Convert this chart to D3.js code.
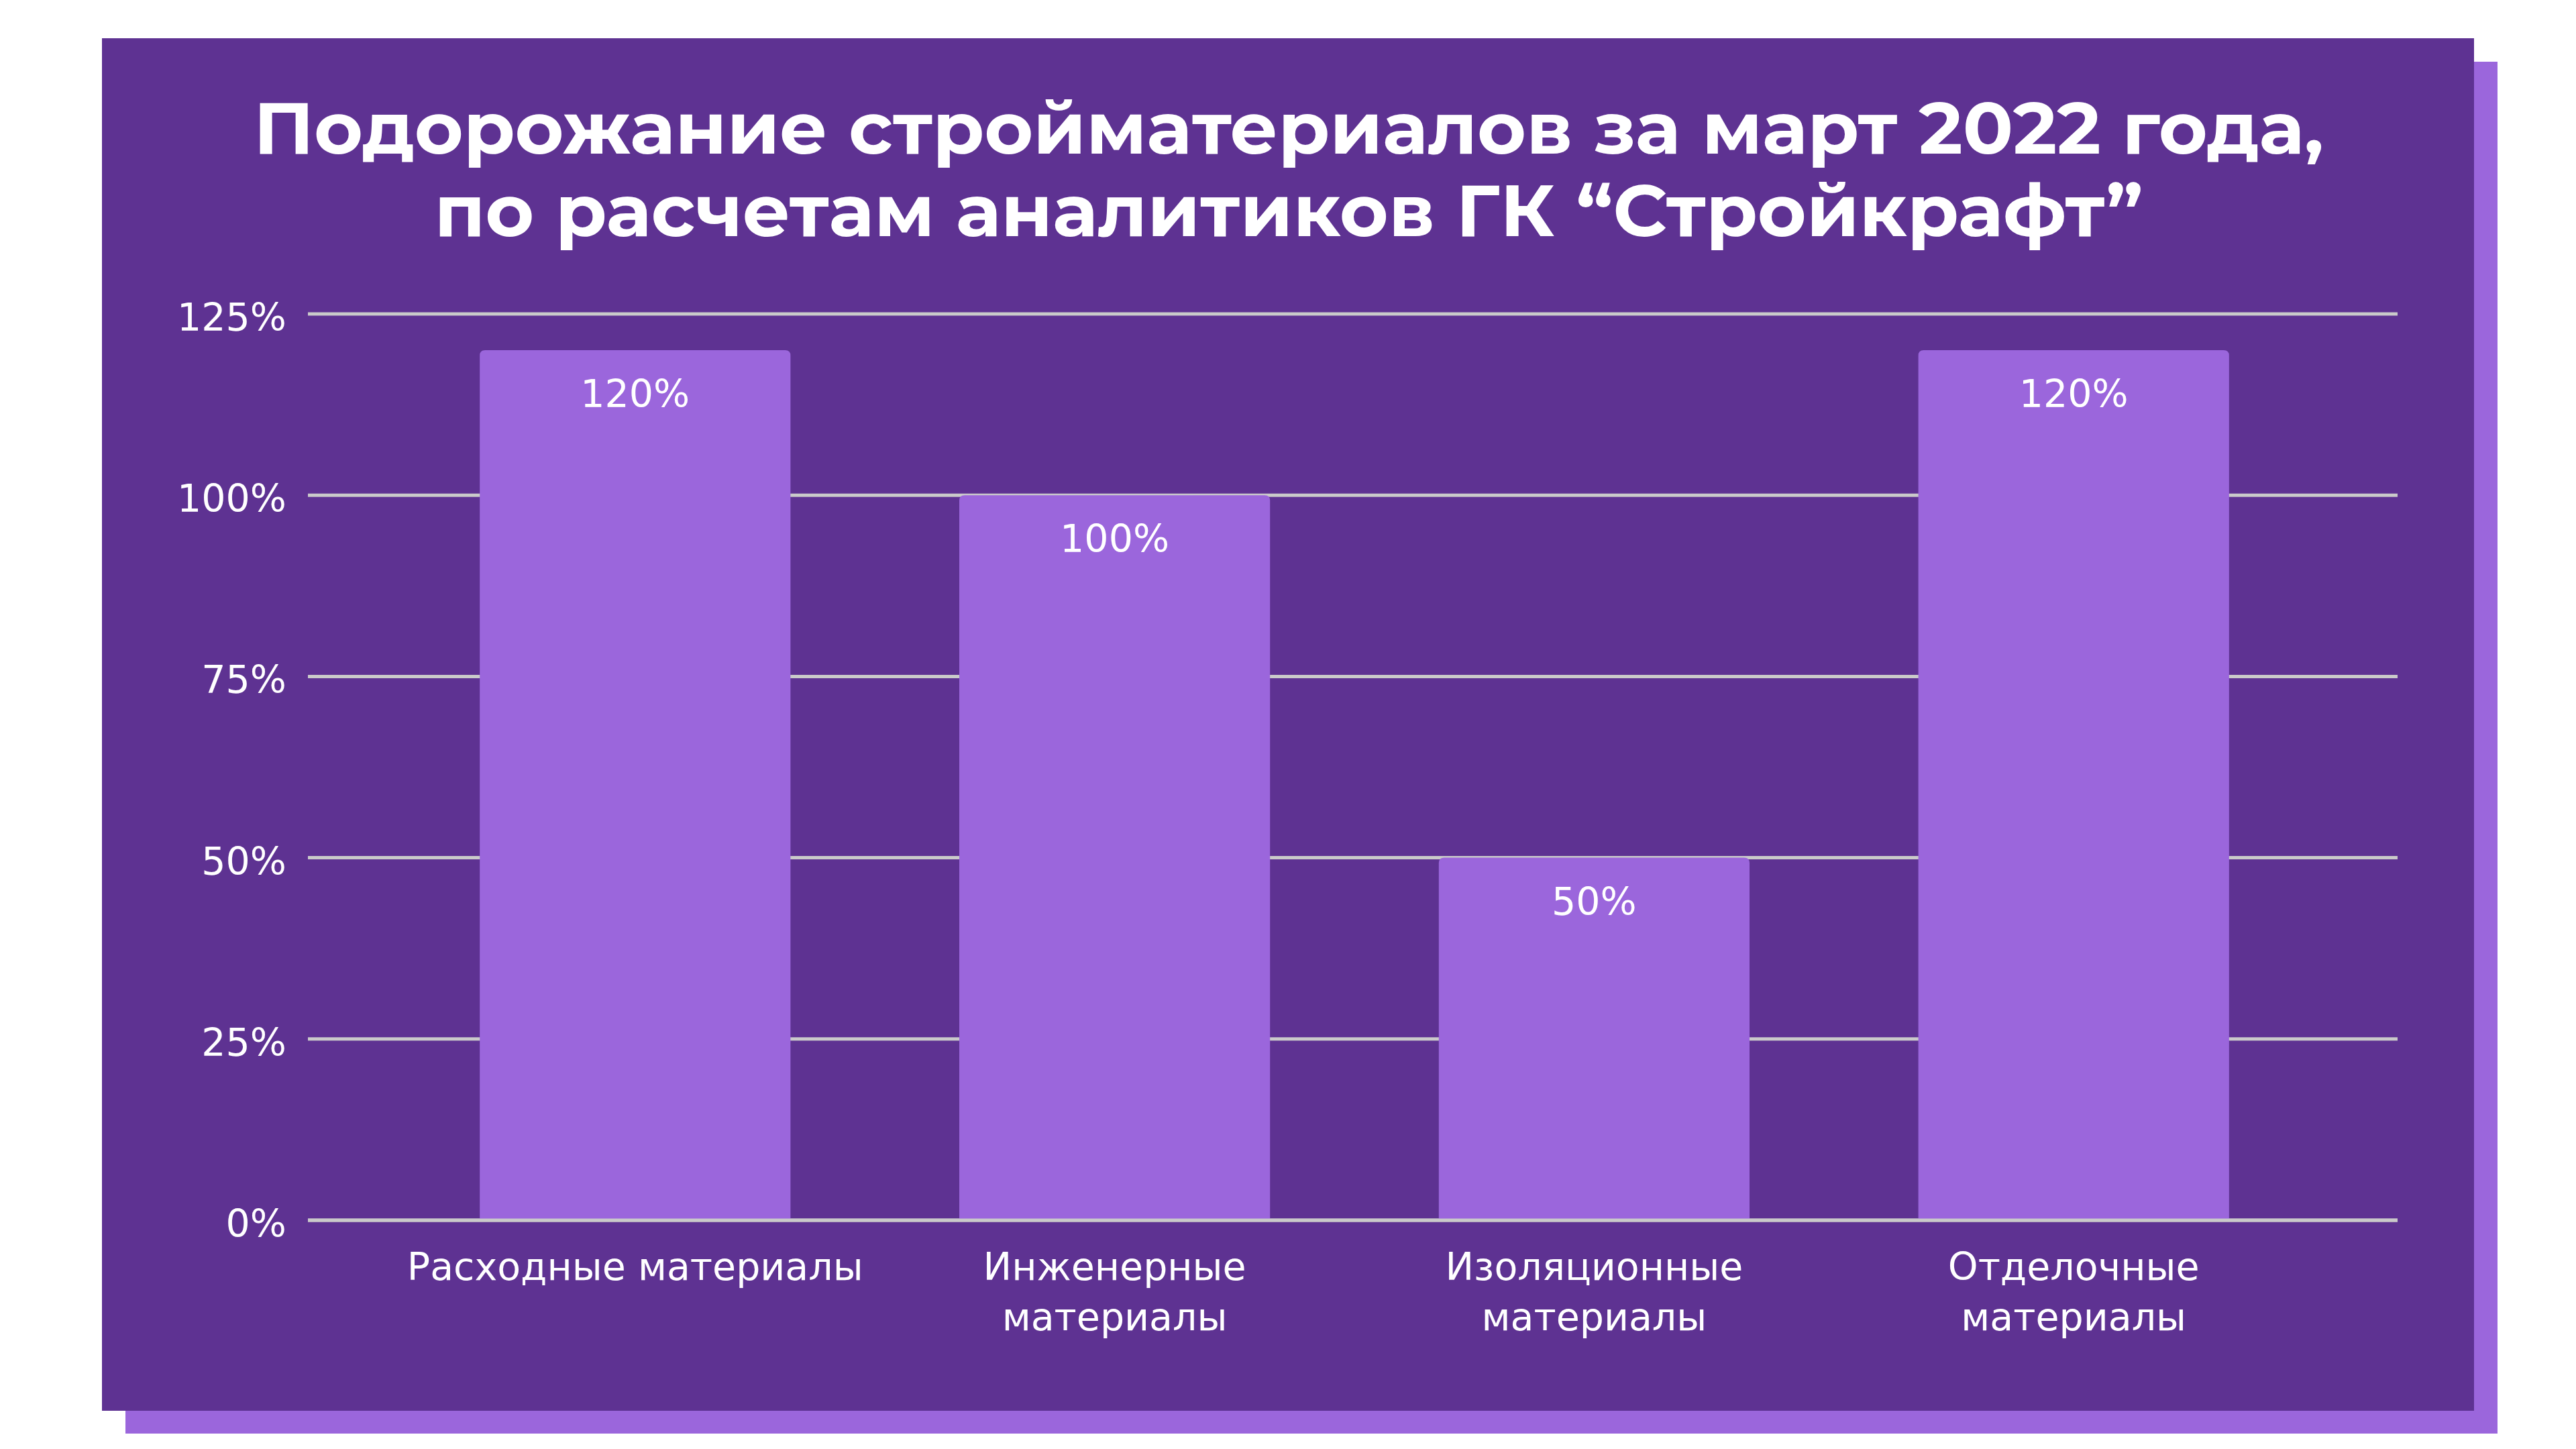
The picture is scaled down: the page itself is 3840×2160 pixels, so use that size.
<!DOCTYPE html>
<html>
<head>
<meta charset="utf-8">
<script src="https://cdn.jsdelivr.net/npm/d3@7"></script>
<style>
  body { margin: 0; background: #fff; }
  svg { display: block; }
</style>
</head>
<body>
<div class="svg"></div>
<script>
const width = 3840
const height = 2160

// Data
const categories = [
  'Расходные материалы',
  'Инженерные\nматериалы',
  'Изоляционные\nматериалы',
  'Отделочные\nматериалы'
]
const values = [120, 100, 50, 120]
const yTicks = [0, 25, 50, 75, 100, 125]
const titleLines = [
  'Подорожание стройматериалов за март 2022 года,',
  'по расчетам аналитиков ГК “Стройкрафт”'
]

const panelColor = '#5e3292'
const barColor = '#9b66dc'
const gridColor = '#cacaca'
const tickFont = '"DejaVu Sans", Verdana, sans-serif'

const svg = d3
  .select('.svg')
  .append('svg')
  .attr('width', width)
  .attr('height', height)

// background panel + offset shadow
svg
  .append('rect')
  .attr('x', 187)
  .attr('y', 92)
  .attr('width', 3723 - 187)
  .attr('height', 2137 - 92)
  .attr('fill', barColor)

svg
  .append('rect')
  .attr('x', 152)
  .attr('y', 57)
  .attr('width', 3688 - 152)
  .attr('height', 2103 - 57)
  .attr('fill', panelColor)

// Title
const titleWidths = [3086, 2547]
svg
  .append('g')
  .selectAll('text')
  .data(titleLines)
  .enter()
  .append('text')
  .attr('x', 1921)
  .attr('y', (d, i) => 229 + i * 123)
  .attr('text-anchor', 'middle')
  .attr('fill', '#fff')
  .style('font-family', 'Montserrat, Inter, "Noto Sans", sans-serif')
  .style('font-weight', 700)
  .style('font-size', '108px')
  .attr('textLength', (d, i) => titleWidths[i])
  .attr('lengthAdjust', 'spacingAndGlyphs')
  .text(d => d)

// Scales
const xScale = d3
  .scaleBand()
  .domain(categories)
  .range([465, 3573])
  .paddingInner(0.352)
  .paddingOuter(0.35)

const yScale = d3
  .scaleLinear()
  .domain([0, 125])
  .range([1819, 468])

// Gridlines
svg
  .append('g')
  .attr('class', 'grid')
  .selectAll('line')
  .data(yTicks)
  .enter()
  .append('line')
  .attr('x1', 459)
  .attr('x2', 3574)
  .attr('y1', d => yScale(d))
  .attr('y2', d => yScale(d))
  .attr('stroke', gridColor)
  .attr('stroke-width', 5)

// Y axis labels
const yAxis = d3
  .axisLeft(yScale)
  .tickValues(yTicks)
  .tickFormat(d => d + '%')
  .tickSize(0)
  .tickPadding(32)

const yG = svg
  .append('g')
  .attr('id', 'y-axis')
  .attr('transform', 'translate(459, 0)')
  .call(yAxis)
yG.select('.domain').remove()
yG.selectAll('text')
  .attr('fill', '#fff')
  .attr('dy', '0.43em')
  .style('font-family', tickFont)
  .style('font-size', '57px')

// Bars with rounded top corners
const r = 8
function barPath(d, i) {
  const x0 = xScale(categories[i])
  const x1 = x0 + xScale.bandwidth()
  const y0 = yScale(d)
  const yb = yScale(0)
  return (
    'M' + x0 + ',' + yb +
    'V' + (y0 + r) +
    'Q' + x0 + ',' + y0 + ' ' + (x0 + r) + ',' + y0 +
    'H' + (x1 - r) +
    'Q' + x1 + ',' + y0 + ' ' + x1 + ',' + (y0 + r) +
    'V' + yb + 'Z'
  )
}

svg
  .append('g')
  .selectAll('path')
  .data(values)
  .enter()
  .append('path')
  .attr('d', barPath)
  .attr('fill', barColor)

// redraw baseline over the bars
svg
  .append('line')
  .attr('x1', 459)
  .attr('x2', 3574)
  .attr('y1', yScale(0))
  .attr('y2', yScale(0))
  .attr('stroke', gridColor)
  .attr('stroke-width', 5)

// Value labels
svg
  .append('g')
  .selectAll('text')
  .data(values)
  .enter()
  .append('text')
  .attr('x', (d, i) => xScale(categories[i]) + xScale.bandwidth() / 2)
  .attr('y', d => yScale(d) + 85)
  .attr('text-anchor', 'middle')
  .attr('fill', '#fff')
  .style('font-family', tickFont)
  .style('font-size', '57px')
  .text(d => d + '%')

// Category labels
const catG = svg
  .append('g')
  .selectAll('text')
  .data(categories)
  .enter()
  .append('text')
  .attr('x', d => xScale(d) + xScale.bandwidth() / 2)
  .attr('y', 1908)
  .attr('text-anchor', 'middle')
  .attr('fill', '#fff')
  .style('font-family', tickFont)
  .style('font-size', '57px')

catG
  .selectAll('tspan')
  .data(d => d.split('\n'))
  .enter()
  .append('tspan')
  .attr('x', function () {
    return d3.select(this.parentNode).attr('x')
  })
  .attr('dy', (d, i) => (i === 0 ? 0 : 75))
  .text(d => d)
</script>
</body>
</html>
